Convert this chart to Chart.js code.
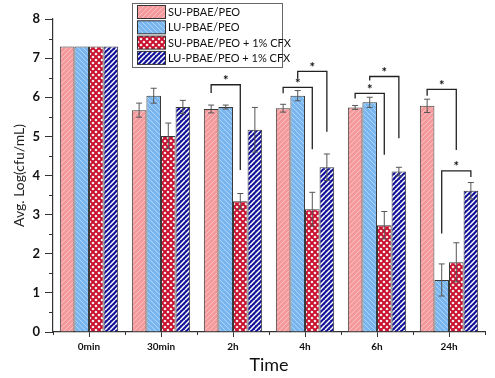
<!DOCTYPE html>
<html><head><meta charset="utf-8">
<script src="https://cdn.jsdelivr.net/npm/chart.js@4.4.0/dist/chart.umd.min.js"></script>
<style>html,body{margin:0;padding:0;background:#fff}#wrap{width:495px;height:378px;position:relative}</style>
</head><body><div id="wrap"><canvas id="c" width="495" height="378"></canvas></div>
<script>
const categories = ['0min','30min','2h','4h','6h','24h'];
const seriesNames = ['SU-PBAE/PEO','LU-PBAE/PEO','SU-PBAE/PEO + 1% CFX','LU-PBAE/PEO + 1% CFX'];
const suPeo = [7.30,5.67,5.70,5.72,5.74,5.78];
const luPeo = [7.30,6.04,5.75,6.04,5.87,1.33];
const suCfx = [7.30,5.01,3.34,3.14,2.73,1.78];
const luCfx = [7.30,5.75,5.17,4.21,4.10,3.61];
const suPeoErr = [0,0.18,0.10,0.10,0.05,0.17];
const luPeoErr = [0,0.19,0.05,0.13,0.13,0.41];
const suCfxErr = [0,0.33,0.20,0.43,0.35,0.50];
const luCfxErr = [0,0.17,0.57,0.34,0.11,0.21];
const yTicks = [0,1,2,3,4,5,6,7,8];
// significance brackets: [category, fromSeries, toSeries, barLevel, leftLegEnd, rightLegEnd]
const brackets = [
 [2,0,2,6.32,6.11,4.14],
 [3,0,2,6.25,6.10,4.67],
 [3,1,3,6.66,6.48,5.12],
 [4,0,2,6.10,5.97,4.53],
 [4,1,3,6.53,6.43,4.95],
 [5,0,2,6.20,6.04,4.65],
 [5,1,3,4.12,2.52,3.96]
];

const FONT = 'Lato, "Open Sans", sans-serif';

function stripePattern(base, stripe, lw, s, dir){
  const c=document.createElement('canvas'); c.width=s; c.height=s;
  const g=c.getContext('2d');
  g.fillStyle=base; g.fillRect(0,0,s,s);
  g.strokeStyle=stripe; g.lineWidth=lw;
  for (const x0 of [-s,0,s]){
    g.beginPath();
    if (dir==='/'){ g.moveTo(x0,s); g.lineTo(x0+s,0); }
    else { g.moveTo(x0,0); g.lineTo(x0+s,s); }
    g.stroke();
  }
  return g.createPattern(c,'repeat');
}
function diamondPattern(base, hole, s){
  const c=document.createElement('canvas'); c.width=s; c.height=s;
  const g=c.getContext('2d');
  g.fillStyle=base; g.fillRect(0,0,s,s);
  g.fillStyle=hole;
  const h=s/2, r=1.6;
  const pts=[[0,0],[s,0],[0,s],[s,s],[h,h]];
  pts.forEach(([cx,cy])=>{
    g.beginPath(); g.moveTo(cx,cy-r); g.lineTo(cx+r,cy); g.lineTo(cx,cy+r); g.lineTo(cx-r,cy); g.closePath(); g.fill();
  });
  return g.createPattern(c,'repeat');
}
const patterns = [
  stripePattern('#F49A9C','#F9C6C6',0.9,5,'/'),
  stripePattern('#79B6F0','#B5D8F8',0.9,5,'\\'),
  diamondPattern('#C8102E','#FFFFFF',6),
  stripePattern('#10109A','#FFFFFF',1.5,5,'/')
];
const values = [suPeo, luPeo, suCfx, luCfx];
const errors = [suPeoErr, luPeoErr, suCfxErr, luCfxErr];

const extras = {
  id:'extras',
  afterDatasetsDraw(chart){
    const ctx=chart.ctx, y=chart.scales.y, x=chart.scales.x, ca=chart.chartArea;
    ctx.save();
    ctx.strokeStyle='#555'; ctx.lineWidth=1;
    values.forEach((vals,di)=>{
      const meta=chart.getDatasetMeta(di);
      vals.forEach((v,i)=>{
        const e=errors[di][i]; if(!e) return;
        const px=meta.data[i].x;
        const t=y.getPixelForValue(v+e), b=y.getPixelForValue(v-e);
        ctx.beginPath();
        ctx.moveTo(px,t); ctx.lineTo(px,b);
        ctx.moveTo(px-3,t); ctx.lineTo(px+3,t);
        ctx.moveTo(px-3,b); ctx.lineTo(px+3,b);
        ctx.stroke();
      });
    });
    ctx.strokeStyle='#222'; ctx.lineWidth=1.3; ctx.fillStyle='#111';
    ctx.font='bold 13px '+FONT; ctx.textAlign='center'; ctx.textBaseline='middle';
    brackets.forEach(([cat,a,b,lvl,la,lb])=>{
      const xa=chart.getDatasetMeta(a).data[cat].x, xb=chart.getDatasetMeta(b).data[cat].x;
      const yl=y.getPixelForValue(lvl);
      ctx.beginPath();
      ctx.moveTo(xa,y.getPixelForValue(la)); ctx.lineTo(xa,yl); ctx.lineTo(xb,yl); ctx.lineTo(xb,y.getPixelForValue(lb));
      ctx.stroke();
      ctx.fillText('*',(xa+xb)/2,yl-4);
    });
    ctx.strokeStyle='#333'; ctx.lineWidth=1;
    for(let v=0.5; v<8; v+=1){
      const py=Math.round(y.getPixelForValue(v))+0.5;
      ctx.beginPath(); ctx.moveTo(ca.left-4,py); ctx.lineTo(ca.left,py); ctx.stroke();
    }
    for(let i=0;i<=categories.length;i++){
      const px=Math.round(x.getPixelForValue(i-0.5))+0.5;
      ctx.beginPath(); ctx.moveTo(px,ca.bottom); ctx.lineTo(px,ca.bottom+3); ctx.stroke();
    }
    ctx.restore();
  },
  afterDraw(chart){
    const ctx=chart.ctx;
    ctx.save();
    const bx=132.5, by=3.5, bw=150, bh=64;
    ctx.fillStyle='#fff'; ctx.fillRect(bx,by,bw,bh);
    ctx.strokeStyle='#666'; ctx.lineWidth=1; ctx.strokeRect(bx,by,bw,bh);
    ctx.font='11px '+FONT; ctx.textAlign='left'; ctx.textBaseline='middle';
    seriesNames.forEach((n,i)=>{
      const sy=5.5+i*15.3;
      ctx.fillStyle=patterns[i]; ctx.fillRect(137.5,sy,28,13);
      ctx.strokeStyle='#333'; ctx.strokeRect(137.5,sy,28,13);
      ctx.fillStyle='#111'; ctx.fillText(n,168,sy+7);
    });
    ctx.restore();
  }
};

new Chart(document.getElementById('c'),{
  type:'bar',
  data:{
    labels:categories,
    datasets: seriesNames.map((n,i)=>({
      label:n, data:values[i], backgroundColor:patterns[i],
      borderColor:'#3a3a3a', borderWidth:1,
      categoryPercentage:0.81, barPercentage:1.0
    }))
  },
  options:{
    responsive:false, animation:false, devicePixelRatio:1,
    layout:{padding:{top:19,right:10,left:0,bottom:0}},
    plugins:{legend:{display:false},tooltip:{enabled:false}},
    scales:{
      x:{
        grid:{display:true,drawOnChartArea:false,offset:false,tickLength:5,tickColor:'#333'},
        border:{color:'#333',width:1.2},
        ticks:{color:'#111',font:{family:FONT,size:10,weight:'bold'},padding:4,maxRotation:0},
        title:{display:true,text:'Time',color:'#111',font:{family:FONT,size:18},padding:{top:2,bottom:2}},
        afterFit(s){ s.height=46; }
      },
      y:{
        min:0,max:8,
        afterBuildTicks(s){ s.ticks=yTicks.map(v=>({value:v})); },
        grid:{display:true,drawOnChartArea:false,tickLength:8,tickColor:'#333'},
        border:{color:'#333',width:1.2},
        ticks:{color:'#111',font:{family:FONT,size:13,weight:'bold'},padding:5},
        title:{display:true,text:'Avg. Log(cfu/mL)',color:'#222',font:{family:FONT,size:14},padding:{top:11,bottom:11}},
        afterFit(s){ s.width=53; }
      }
    }
  },
  plugins:[extras]
});
</script></body></html>
